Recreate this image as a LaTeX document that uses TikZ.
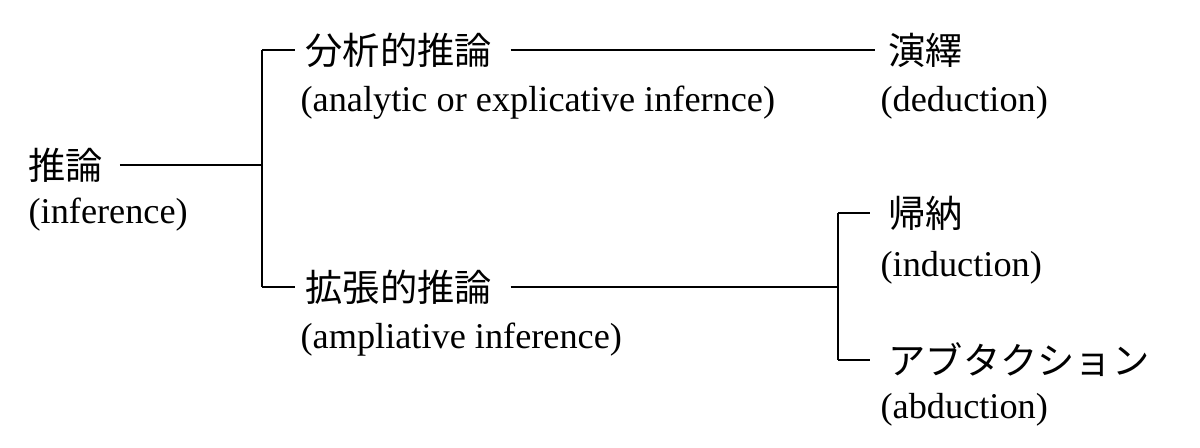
\documentclass[tikz,border=0pt]{standalone}
\usepackage{fontspec}
\setmainfont{Liberation Serif}
\newfontfamily\jpfont{Noto Sans CJK JP}
\begin{document}
\begin{tikzpicture}[x=0.025cm, y=-0.025cm, line width=0.9pt,
  jp/.style={anchor=west, inner sep=0pt, font=\jpfont\fontsize{26.5}{30}\selectfont},
  en/.style={anchor=west, inner sep=0pt, font=\fontsize{25.8}{30}\selectfont}]

\useasboundingbox (0,0) rectangle (1200,447);

% root
\node[jp] (inf) at (28,165) {推論};
\node[en] (infE) at (28,215) {(inference)};

% branch points
\coordinate (br) at (262,165);
\coordinate (brA) at (262,50);
\coordinate (brB) at (262,287);
\coordinate (sub) at (838,287);
\coordinate (subA) at (838,213);
\coordinate (subB) at (838,360);

% second level
\node[jp] (ana) at (305,50) {分析的推論};
\node[en] (anaE) at (300,103) {(analytic or explicative infernce)};
\node[jp] (amp) at (305,287) {拡張的推論};
\node[en] (ampE) at (300,340) {(ampliative inference)};

% third level
\node[jp] (ded) at (888,50) {演繹};
\node[en] (dedE) at (880,103) {(deduction)};
\node[jp] (ind) at (888,213) {帰納};
\node[en] (indE) at (880,268) {(induction)};
\node[jp] (abd) at (888,360) {アブタクション};
\node[en] (abdE) at (880,410) {(abduction)};

\draw ([xshift=0.4cm]inf.east) -- (br);
\draw (brA) -- (brB);
\draw (brA) -- ([xshift=-0.25cm]ana.west);
\draw (brB) -- ([xshift=-0.25cm]amp.west);
\draw ([xshift=0.45cm]ana.east) -- ([xshift=-0.33cm]ded.west);
\draw ([xshift=0.45cm]amp.east) -- (sub);
\draw (subA) -- (subB);
\draw (subA) -- ([xshift=-0.45cm]ind.west);
\draw (subB) -- ([xshift=-0.45cm]abd.west);
\end{tikzpicture}
\end{document}
